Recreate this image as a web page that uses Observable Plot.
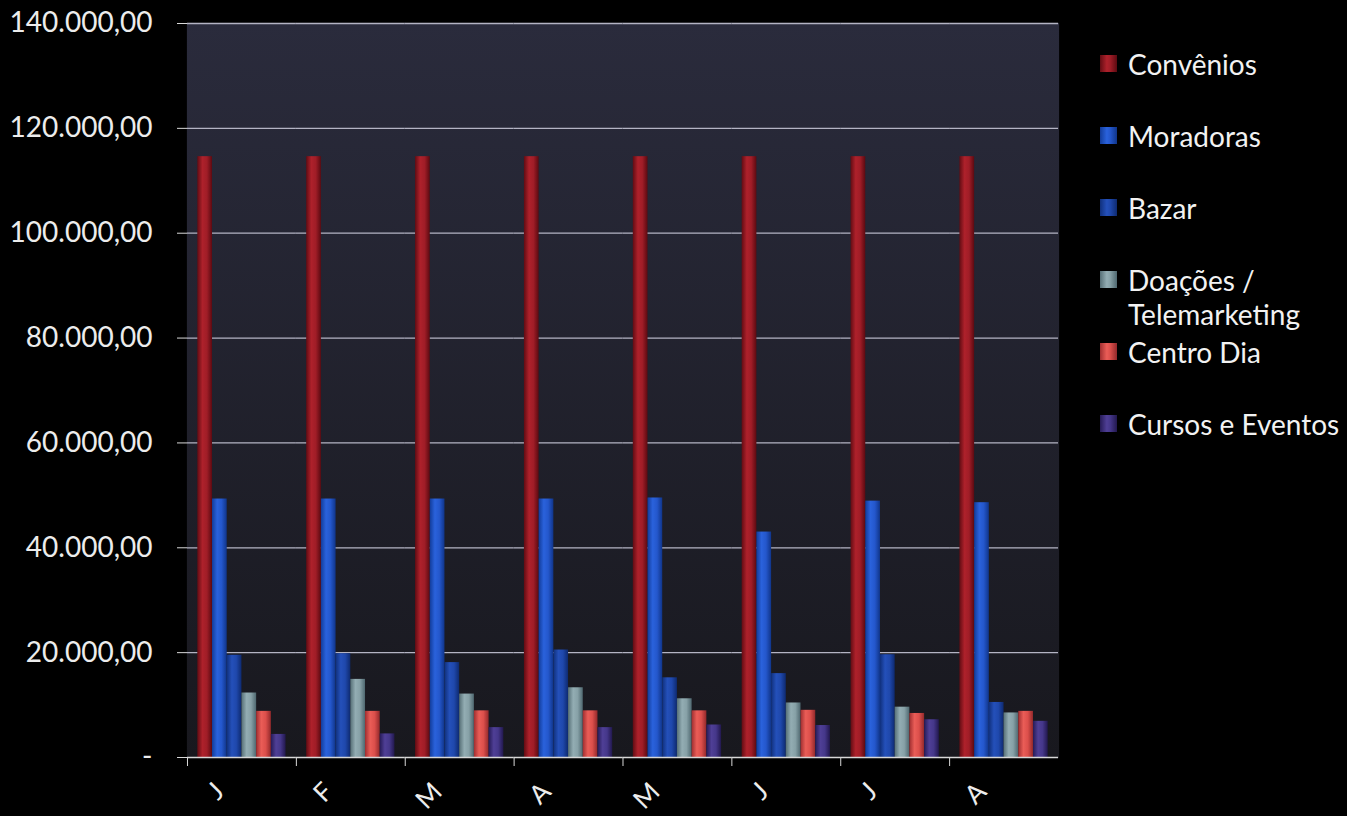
<!DOCTYPE html>
<html><head><meta charset="utf-8">
<script src="https://cdn.jsdelivr.net/npm/d3@7"></script>
<script src="https://cdn.jsdelivr.net/npm/@observablehq/plot@0.6"></script>
<style>
html,body{margin:0;padding:0;background:#000;}
#wrap{position:relative;width:1347px;height:816px;overflow:hidden;background:#000;}
#legend{position:absolute;left:1100px;top:47px;width:247px;font-family:Lato,sans-serif;font-size:28px;color:#f2f2f2;}
.item{position:relative;height:72px;}
.sw{position:absolute;left:0;top:8px;width:17px;height:17px;}
.lab{position:absolute;left:28px;top:0;width:220px;line-height:34px;}
</style></head><body><div id="wrap"></div>
<script>
const months = ["J","F","M","A","M","J","J","A"];
const series = ["Convênios","Moradoras","Bazar","Doações / Telemarketing","Centro Dia","Cursos e Eventos"];
const convenios = [114600,114600,114600,114600,114600,114600,114600,114600];
const moradoras = [49300,49300,49300,49300,49500,43000,48900,48600];
const bazar     = [19500,19800,18100,20500,15200,16000,19600,10500];
const doacoes   = [12300,14900,12100,13300,11200,10400,9600,8500];
const centroDia = [8800,8800,8900,8900,8900,9000,8400,8800];
const cursos    = [4400,4500,5700,5700,6200,6100,7200,6900];
const yTicks = [0,20000,40000,60000,80000,100000,120000,140000];

const seriesValues = [convenios, moradoras, bazar, doacoes, centroDia, cursos];
const rows = [];
months.forEach((m, i) => series.forEach((s, j) => rows.push({m: i, s, v: seriesValues[j][i]})));

const grads = [
  ["#620c13","#ae212b","#a01d27","#5c0a11"],
  ["#123c9a","#2a62dc","#2457cc","#10358a"],
  ["#10307c","#2450ba","#1f48ac","#0e2a70"],
  ["#566f76","#93adb3","#87a1a7","#4f6870"],
  ["#a02e30","#ea5d57","#dc4f4b","#93292b"],
  ["#261b56","#4f3f96","#45378a","#22184e"]
];

const loc = d3.formatLocale({decimal:",", thousands:".", grouping:[3], currency:["",""]});
const fmt = loc.format(",.2f");

const plot = Plot.plot({
  width: 1347, height: 816,
  marginLeft: 187, marginRight: 289, marginTop: 23, marginBottom: 59,
  style: {background: "transparent", color: "#ececec", fontFamily: "Lato, sans-serif", fontSize: "28px"},
  fx: {domain: d3.range(months.length), padding: 0, round: false, label: null, axis: null},
  x: {domain: series, paddingInner: 0, paddingOuter: 0.7, round: false, axis: null},
  y: {domain: [0, 140000]},
  color: {domain: series, range: series.map((_, i) => `url(#g${i})`)},
  marks: [
    Plot.frame({fill: "url(#bg)", inset: -0.6}),
    Plot.ruleY(yTicks.filter(t => t > 0), {stroke: "#b4b4c4", strokeWidth: 1.3}),
    Plot.barY(rows, {fx: "m", x: "s", y: "v", fill: "s"}),
    Plot.ruleY([0], {stroke: "#d8d8d8", strokeWidth: 1.5}),
    Plot.axisY({ticks: yTicks, tickFormat: d => d === 0 ? "-" : fmt(d), tickSize: 10, tickPadding: 25, fontSize: 28, line: true, stroke: "#d8d8d8", label: null}),
    Plot.axisFx({anchor: "bottom", tickSize: 0, tickRotate: -45, tickPadding: 22, dx: -22, dy: 8, fontSize: 26, tickFormat: i => months[i], label: null}),
    Plot.axisFx({anchor: "bottom", tickSize: 9, tickFormat: () => "", dx: -54.44, stroke: "#d8d8d8", label: null})
  ]
});

const svg = plot.tagName.toLowerCase() === "svg" ? plot : plot.querySelector("svg");
let defs = `<linearGradient id="bg" x1="0" y1="0" x2="0" y2="1"><stop offset="0" stop-color="#2a2b3c"/><stop offset="1" stop-color="#18181e"/></linearGradient>`;
grads.forEach((g, i) => {
  defs += `<linearGradient id="g${i}" x1="0" y1="0" x2="1" y2="0">` +
    g.map((c, k) => `<stop offset="${[0,0.35,0.65,1][k]}" stop-color="${c}"/>`).join("") + `</linearGradient>`;
});
const d = document.createElementNS("http://www.w3.org/2000/svg", "defs");
d.innerHTML = defs;
svg.insertBefore(d, svg.firstChild);

const wrap = document.getElementById("wrap");
wrap.appendChild(plot);

const legend = document.createElement("div");
legend.id = "legend";
series.forEach((s, i) => {
  const g = grads[i];
  const it = document.createElement("div");
  it.className = "item";
  it.innerHTML = `<div class="sw" style="background:linear-gradient(90deg,${g[0]},${g[1]} 40%,${g[2]} 60%,${g[3]})"></div><div class="lab">${s}</div>`;
  legend.appendChild(it);
});
wrap.appendChild(legend);
</script>
</body></html>
